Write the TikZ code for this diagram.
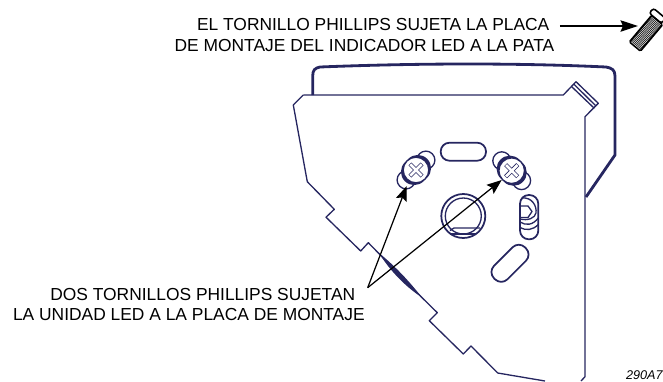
\documentclass[tikz,border=0pt]{standalone}
\usepackage{fontspec}
\setmainfont{Liberation Sans}
\usepackage{xcolor}
\usetikzlibrary{arrows.meta}
\definecolor{plateblue}{RGB}{38,38,96}
\begin{document}
\begin{tikzpicture}[scale=0.2,
  plate/.style={plateblue,line width=0.75pt,line join=round},
  heavy/.style={plateblue,line width=1.6pt,line join=round},
  slotline/.style={plateblue,line width=1pt,line join=round},
  leader/.style={black,line width=0.7pt,-{Stealth[length=8.5pt,width=6.5pt,inset=1.5pt]}},
  label/.style={anchor=base west,font=\fontsize{9.9}{12}\selectfont}]
\tikzstyle{every node}+=[inner sep=0pt]
\useasboundingbox (0,0) rectangle (66.3,-38.1);
% back of the leg
\draw [heavy] (31.27,-9.5) -- (31.27,-7.6) .. controls (31.27,-7) and (31.5,-6.8) .. (32,-6.7) .. controls (42,-6.3) and (52,-6.3) .. (60.6,-6.7) .. controls (61.2,-6.8) and (61.5,-7) .. (61.5,-7.6) -- (61.5,-15.5) -- (58.6,-19.7);
\draw [white,line width=0.3pt] (61.25,-15.4) -- (58.6,-19.2);
% plate outline
\draw [plate] (30.33,-9.5) -- (29.33,-10.5) -- (30.73,-18.17) -- (33.43,-20.93) -- (32.6,-21.72) -- (36.07,-25.1) -- (36.83,-24.27) -- (42.17,-29.73) -- (43.73,-31.27) -- (42.93,-32.07) -- (46.33,-35.4) -- (47.1,-34.6) -- (49.77,-37.3) -- (54.5,-38.1);
\draw [plate] (30.33,-9.5) -- (56.33,-9.5) -- (57.6,-8.17) -- (59.83,-10.33) -- (58.5,-11.67) -- (58.5,-37.67) -- (58.1,-38.1);
\draw [plate] (57.4,-8.43) -- (59.6,-10.6);
\draw [plate] (57.17,-8.67) -- (59.43,-10.83);
% crease
\fill [plateblue] (37.9,-25.3) .. controls (39.5,-26.6) and (41,-28.2) .. (42.17,-29.73) .. controls (40.6,-28.7) and (39,-27.1) .. (37.9,-25.3);
% slots
\draw [slotline,rounded corners=5pt] (44.07,-14.27) rectangle (48.6,-16.07);
\begin{scope}[shift={(51,-26.33)},rotate=45]
\draw [slotline,rounded corners=5pt] (-2.19,-0.95) rectangle (2.19,0.95);
\end{scope}
\draw [slotline,rounded corners=5pt] (52,-19.5) rectangle (53.83,-23.93);
\draw [plate] (52,-22.2) .. controls (52.6,-22.6) and (53.3,-22.5) .. (53.83,-21.8);
\draw [plate] (52,-22.75) .. controls (52.6,-23.1) and (53.3,-23) .. (53.83,-22.45);
\draw [plate] (52.2,-19.8) .. controls (53.2,-19.7) and (53.7,-20.6) .. (53.6,-21.3) .. controls (53.5,-21.8) and (52.8,-22.1) .. (52,-21.9);
\draw [plate] (52.1,-20.6) -- (52.8,-20.6) -- (53.2,-21.15) -- (52.8,-21.75) -- (52.1,-21.75);
% centre hole
\draw [slotline] (46.33,-21.6) circle (2.2);
\draw [plate] (46.33,-21.6) circle (1.8);
\draw [plate] (45,-23.05) -- (45.4,-22.8) -- (48,-22.8);
\draw [plate] (45.1,-23.4) -- (47.6,-23.4);
% screws
\foreach \x/\y/\ang in {41.6/-17/45,51.17/-17.07/-45}
{
\begin{scope}[shift={(\x,\y)},rotate=\ang]
\draw [plate,fill=white] (1.4,0) circle (0.9);
\draw [plate,fill=white] (-1.4,0) circle (0.9);
\fill [plateblue] (0.25,0) circle (1.33);
\fill [plateblue] (-0.25,0) circle (1.33);
\draw [plate,fill=white] (0,0) circle (1.28);
\draw [plateblue,line width=2.4pt] (-0.85,0) -- (0.85,0);
\draw [plateblue,line width=2.4pt] (0,-0.85) -- (0,0.85);
\draw [white,line width=1.5pt] (-0.8,0) -- (0.8,0);
\draw [white,line width=1.5pt] (0,-0.8) -- (0,0.8);
\end{scope}
}
% loose screw
\begin{scope}[shift={(64.6,-3.33)},rotate=50]
\draw [black,line width=0.9pt,fill=white,rounded corners=1.5pt] (1.75,-0.55) rectangle (2.4,1.05);
\fill [black,rounded corners=1pt] (-1.8,-0.8) rectangle (1.8,0.8);
\foreach \i in {0,...,22}
\draw [gray!25,line width=0.35pt] (-1.6+\i*0.145,-0.6) -- (-1.6+\i*0.145,0.6);
\end{scope}
% labels
\node [label] (topone) at (19.67,-3.07) {EL TORNILLO PHILLIPS SUJETA LA PLACA};
\node [label] (toptwo) at (17.43,-5.14) {DE MONTAJE DEL INDICADOR LED A LA PATA};
\node [label] (lowone) at (5,-30.07) {DOS TORNILLOS PHILLIPS SUJETAN};
\node [label] (lowtwo) at (1.27,-32.07) {LA UNIDAD LED A LA PLACA DE MONTAJE};
\node [anchor=base east,font=\fontsize{7.2}{8.5}\itshape] (partno) at (66.3,-37.95) {290A7};
% leaders
\coordinate (apex) at (36.77,-28.77);
\coordinate (lefttip) at (40.67,-18.6);
\coordinate (righttip) at (50.17,-18);
\coordinate (tailbolt) at (56,-2.6);
\coordinate (tipbolt) at (63.8,-2.6);
\draw [leader] (apex) -- (lefttip);
\draw [leader] (apex) -- (righttip);
\draw [leader,-{Stealth[length=10pt,width=6.5pt,inset=1.5pt]}] (tailbolt) -- (tipbolt);
\end{tikzpicture}
\end{document}
